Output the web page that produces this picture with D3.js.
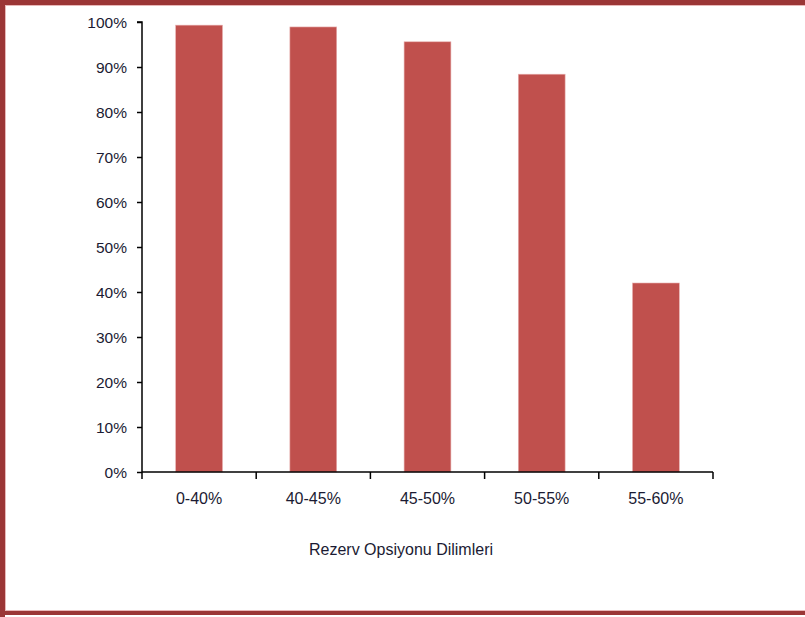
<!DOCTYPE html>
<html><head><meta charset="utf-8">
<script src="https://cdn.jsdelivr.net/npm/d3@7"></script>
<style>body{margin:0;background:#fff}svg{display:block}text{font-family:"Liberation Sans",Arial,sans-serif;fill:#1b1b33}</style>
</head><body><svg id="c" width="805" height="617"></svg>
<script>
const categories = ["0-40%","40-45%","45-50%","50-55%","55-60%"];
const values = [99.3, 98.9, 95.6, 88.4, 42.0];
const yTicks = [0,10,20,30,40,50,60,70,80,90,100];
const xTitle = "Rezerv Opsiyonu Dilimleri";

const svg = d3.select("#c");
// frame
svg.append("rect").attr("x",0).attr("y",0).attr("width",805).attr("height",5).attr("fill","#9b3636");
svg.append("rect").attr("x",0).attr("y",0).attr("width",5).attr("height",617).attr("fill","#9b3636");
svg.append("rect").attr("x",0).attr("y",611).attr("width",805).attr("height",4).attr("fill","#9b3636");
svg.append("rect").attr("x",5).attr("y",5).attr("width",800).attr("height",1).attr("fill","#e8b8b8");
svg.append("rect").attr("x",5).attr("y",5).attr("width",1).attr("height",606).attr("fill","#e8b8b8");
svg.append("rect").attr("x",5).attr("y",610).attr("width",800).attr("height",1).attr("fill","#e8b8b8");

const x = d3.scaleBand().domain(categories).range([142,713]).paddingInner(0.59).paddingOuter(0.295);
const y = d3.scaleLinear().domain([0,100]).range([472,22]);

svg.selectAll(".bar").data(values).enter().append("rect")
  .attr("x",(d,i)=>x(categories[i])).attr("width",x.bandwidth())
  .attr("y",d=>y(d)).attr("height",d=>y(0)-y(d))
  .attr("fill","#c0504d").attr("stroke","#e8b0b0").attr("stroke-width",0.6);

const yAxis = d3.axisLeft(y).tickValues(yTicks).tickFormat(d=>d+"%").tickSize(5).tickPadding(10);
const gy = svg.append("g").attr("transform","translate(142,0)").call(yAxis);
gy.select(".domain").attr("stroke","#000").attr("stroke-width",1.5).attr("d","M-5,22H0V472");
gy.selectAll(".tick line").attr("stroke","#000").attr("stroke-width",1.5);
gy.selectAll("text").attr("font-size",15.5).attr("dy","0.38em").style("font-family","'Liberation Sans',Arial,sans-serif").attr("fill","#1b1b33");

// x axis line with category boundary ticks
const gx = svg.append("g");
gx.append("line").attr("x1",142).attr("x2",713).attr("y1",472).attr("y2",472).attr("stroke","#000").attr("stroke-width",1.5);
const edges = [142].concat(categories.map(c=>x(c)+x.bandwidth()/2+x.step()/2));
gx.selectAll(".xt").data(edges).enter().append("line")
  .attr("x1",d=>d).attr("x2",d=>d).attr("y1",472).attr("y2",479).attr("stroke","#000").attr("stroke-width",1.5);
gx.selectAll(".xl").data(categories).enter().append("text")
  .attr("x",d=>x(d)+x.bandwidth()/2).attr("y",504).attr("text-anchor","middle").attr("font-size",16).text(d=>d);

svg.append("text").attr("x",401).attr("y",555).attr("text-anchor","middle").attr("font-size",16).text(xTitle);
</script></body></html>
